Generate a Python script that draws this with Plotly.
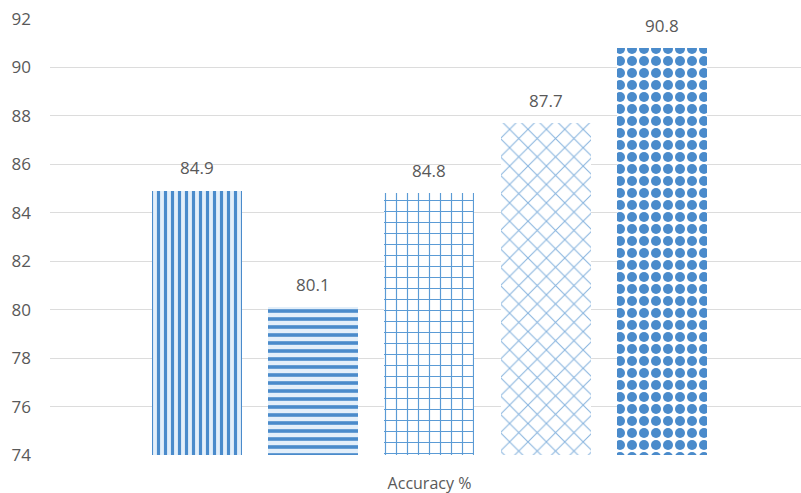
import plotly.graph_objects as go

categories = ["Accuracy %"]
series_values = [84.9, 80.1, 84.8, 87.7, 90.8]
series_labels = ["84.9", "80.1", "84.8", "87.7", "90.8"]
y_ticks = [74, 76, 78, 80, 82, 84, 86, 88, 90, 92]

patterns = [
    dict(shape="|", size=7, solidity=0.45, fg="#4a8bcb"),
    dict(shape="-", size=8, solidity=0.45, fg="#4a8bcb"),
    dict(shape="+", size=11, solidity=0.2, fg="#5b9bd5"),
    dict(shape="x", size=13, solidity=0.15, fg="#86b3de"),
    dict(shape=".", size=12, solidity=0.55, fg="#4a8bcb"),
]
bg = "#e3effa"
fonts = "Open Sans, DejaVu Sans, sans-serif"
textc = "#595959"

fig = go.Figure()
for i, (v, p) in enumerate(zip(series_values, patterns)):
    fig.add_trace(go.Bar(
        x=[i], y=[v], width=0.774,
        marker=dict(color=bg, line=dict(width=0),
                    pattern=dict(shape=p["shape"], size=p["size"], solidity=p["solidity"],
                                 fgcolor=p["fg"], bgcolor="white" if i >= 2 else bg,
                                 fillmode="replace")),
        showlegend=False, hoverinfo="skip",
    ))
    fig.add_annotation(x=i, y=v, text=series_labels[i], showarrow=False,
                       yanchor="middle", yshift=23,
                       font=dict(family=fonts, size=17, color=textc))

fig.update_layout(
    width=801, height=493,
    margin=dict(l=50, r=0, t=19, b=38),
    paper_bgcolor="white", plot_bgcolor="white",
    bargap=0,
    font=dict(family=fonts, color=textc),
)
fig.update_xaxes(
    range=[-1.2645, 5.196], tickvals=[2], ticktext=categories,
    showgrid=False, zeroline=False, showline=False,
    tickfont=dict(size=16, color=textc), ticks="", ticklabelstandoff=17,
)
fig.update_yaxes(
    range=[74, 92], tickvals=y_ticks, showgrid=True, gridcolor="#dcdcdc", gridwidth=1,
    zeroline=False, showline=False, ticks="",
    tickfont=dict(size=17, color=textc), ticklabelstandoff=18,
)
fig.write_html("out.html")
